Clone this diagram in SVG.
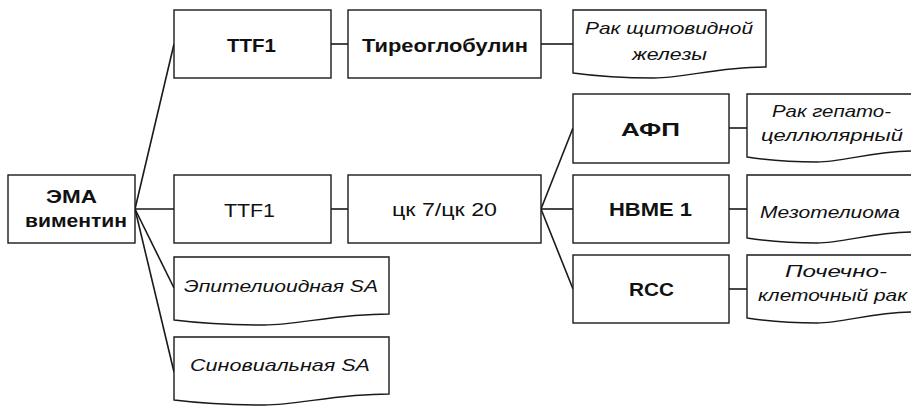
<svg xmlns="http://www.w3.org/2000/svg" width="911" height="407" viewBox="0 0 911 407">
<style>
.box{fill:#fff;stroke:#1a1a1a;stroke-width:1.4}
.doc{fill:#fff;stroke:#1a1a1a;stroke-width:1.4}
.con line{stroke:#1a1a1a;stroke-width:1.6}
text{fill:#111;font-family:"Liberation Sans",Arial,sans-serif}
.b{font-size:19px;font-weight:bold}
.r{font-size:19px}
.i{font-size:17px;font-style:italic}
</style>
<rect width="911" height="407" fill="#fff"/>
<g class="con" id="connectors">
<line x1="135" y1="209" x2="174" y2="44"/>
<line x1="135" y1="209" x2="174" y2="209"/>
<line x1="135" y1="209" x2="174" y2="288"/>
<line x1="135" y1="209" x2="174" y2="372"/>
<line x1="331" y1="44" x2="348" y2="44"/>
<line x1="541" y1="44" x2="573" y2="44"/>
<line x1="331" y1="209" x2="348" y2="209"/>
<line x1="541" y1="209" x2="573" y2="128"/>
<line x1="541" y1="209" x2="573" y2="209"/>
<line x1="541" y1="209" x2="573" y2="289"/>
<line x1="729" y1="128" x2="747" y2="128"/>
<line x1="729" y1="209" x2="747" y2="209"/>
<line x1="729" y1="289" x2="747" y2="289"/>
</g>
<g id="ema">
<rect class="box" x="8" y="175" width="127" height="68"/>
<text class="b" x="46" y="203" textLength="51" lengthAdjust="spacingAndGlyphs">ЭМА</text>
<text class="b" x="25" y="227" textLength="102" lengthAdjust="spacingAndGlyphs">виментин</text>
</g>
<g id="ttf1-top">
<rect class="box" x="174" y="10" width="157" height="68"/>
<text class="b" x="227" y="52" textLength="49" lengthAdjust="spacingAndGlyphs">TTF1</text>
</g>
<g id="tireo">
<rect class="box" x="348" y="10" width="193" height="68"/>
<text class="b" x="362" y="52" textLength="166" lengthAdjust="spacingAndGlyphs">Тиреоглобулин</text>
</g>
<g id="thyroid-cancer">
<path class="doc" d="M573,10 H766 V67 C717.75,67 684.9,78 654.1,78 C630.9,78 601.95,77 573,73 Z"/>
<text class="i" x="585" y="34" textLength="168" lengthAdjust="spacingAndGlyphs">Рак щитовидной</text>
<text class="i" x="632" y="60" textLength="75" lengthAdjust="spacingAndGlyphs">железы</text>
</g>
<g id="ttf1-mid">
<rect class="box" x="174" y="175" width="157" height="68"/>
<text class="r" x="224" y="217" textLength="51" lengthAdjust="spacingAndGlyphs">TTF1</text>
</g>
<g id="ck">
<rect class="box" x="348" y="175" width="193" height="68"/>
<text class="r" x="392" y="216" textLength="105" lengthAdjust="spacingAndGlyphs">цк 7/цк 20</text>
</g>
<g id="afp">
<rect class="box" x="573" y="94" width="156" height="69"/>
<text class="b" x="621" y="136" textLength="59" lengthAdjust="spacingAndGlyphs">АФП</text>
</g>
<g id="hbme">
<rect class="box" x="573" y="175" width="156" height="68"/>
<text class="b" x="609" y="216" textLength="83" lengthAdjust="spacingAndGlyphs">HBME 1</text>
</g>
<g id="rcc">
<rect class="box" x="573" y="255" width="156" height="68"/>
<text class="b" x="629" y="296" textLength="45" lengthAdjust="spacingAndGlyphs">RCC</text>
</g>
<g id="hcc">
<path class="doc" d="M747,94 H914 V151 C872.25,151 843.9,162 817.1,162 C797.1,162 772.1,161 747,157 Z"/>
<text class="i" x="772" y="117" textLength="119" lengthAdjust="spacingAndGlyphs">Рак гепато-</text>
<text class="i" x="761" y="141" textLength="142" lengthAdjust="spacingAndGlyphs">целлюлярный</text>
</g>
<g id="meso">
<path class="doc" d="M747,175 H914 V232 C872.25,232 843.9,243 817.1,243 C797.1,243 772.1,242 747,238 Z"/>
<text class="i" x="760" y="218" textLength="140" lengthAdjust="spacingAndGlyphs">Мезотелиома</text>
</g>
<g id="renal">
<path class="doc" d="M747,255 H914 V312 C872.25,312 843.9,323 817.1,323 C797.1,323 772.1,322 747,318 Z"/>
<text class="i" x="785" y="277" textLength="102" lengthAdjust="spacingAndGlyphs">Почечно-</text>
<text class="i" x="758" y="301" textLength="149" lengthAdjust="spacingAndGlyphs">клеточный рак</text>
</g>
<g id="epith">
<path class="doc" d="M174,257 H389 V314 C335.25,314 298.7,325 264.3,325 C238.5,325 206.25,324 174,320 Z"/>
<text class="i" x="184" y="292" textLength="194" lengthAdjust="spacingAndGlyphs">Эпителиоидная SA</text>
</g>
<g id="synov">
<path class="doc" d="M174,337 H389 V394 C335.25,394 298.7,405 264.3,405 C238.5,405 206.25,404 174,400 Z"/>
<text class="i" x="190" y="371" textLength="180" lengthAdjust="spacingAndGlyphs">Синовиальная SA</text>
</g>
</svg>
